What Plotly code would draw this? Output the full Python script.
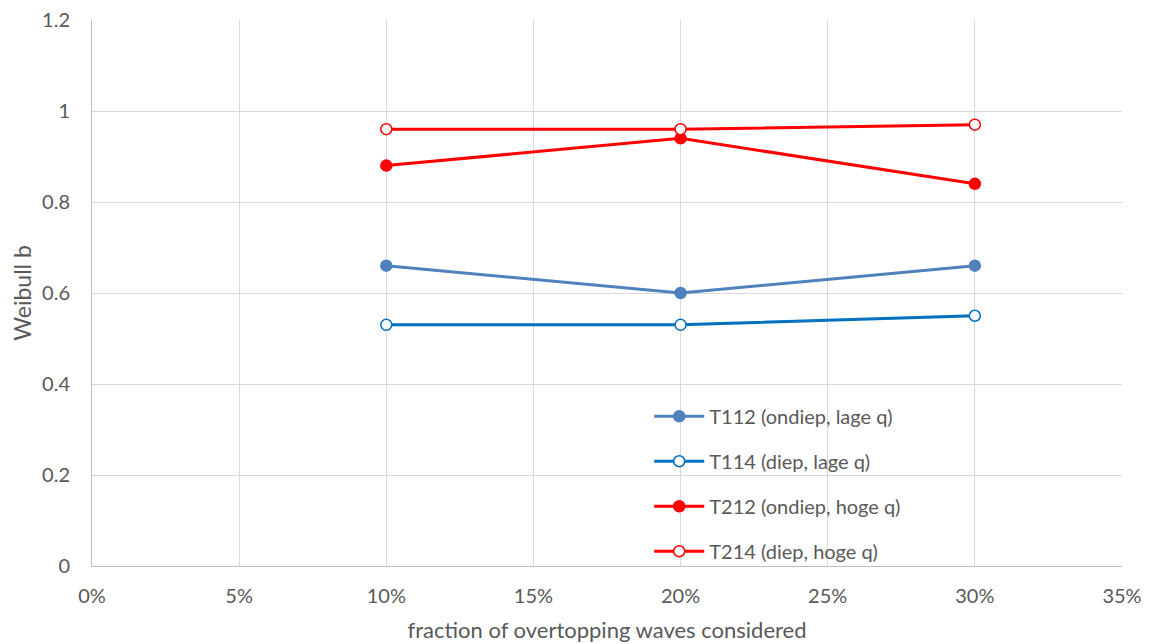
import plotly.graph_objects as go

# fraction of overtopping waves considered
fractions = [0.10, 0.20, 0.30]

t112 = [0.66, 0.60, 0.66]
t114 = [0.53, 0.53, 0.55]
t212 = [0.88, 0.94, 0.84]
t214 = [0.96, 0.96, 0.97]

series = [
    ("T112 (ondiep, lage q)", t112, "#4f81bd", True),
    ("T114 (diep, lage q)", t114, "#0070c0", False),
    ("T212 (ondiep, hoge q)", t212, "#ff0000", True),
    ("T214 (diep, hoge q)", t214, "#ff0000", False),
]

fig = go.Figure()
for i, (name, vals, color, filled) in enumerate(series):
    fig.add_trace(go.Scatter(
        x=fractions,
        y=vals,
        mode="lines+markers",
        name=name,
        legendgroup=str(i),
        line=dict(color=color, width=3),
        marker=dict(
            symbol="circle",
            size=11,
            color=color if filled else "white",
            line=dict(color=color, width=1.5),
        ),
    ))

grid = "#d9d9d9"
fig.update_layout(
    width=1155,
    height=644,
    margin=dict(l=84, r=41, t=12, b=86),
    plot_bgcolor="white",
    paper_bgcolor="white",
    font=dict(family="Lato, sans-serif", size=20, color="#595959"),
    showlegend=True,
    legend=dict(
        x=0.541, y=0.31, xanchor="left", yanchor="top",
        bgcolor="rgba(0,0,0,0)",
        font=dict(size=20, color="#595959"),
        tracegroupgap=16,
        itemwidth=50,
    ),
    xaxis=dict(
        range=[0, 0.35],
        dtick=0.05,
        tickformat=".0%",
        showgrid=True,
        gridcolor=grid,
        zeroline=False,
        showline=True,
        linecolor="#bfbfbf",
        ticks="",
        ticklabelstandoff=12,
        ticklabeloverflow="allow",
        automargin=False,
        title=dict(text="fraction of overtopping waves considered", font=dict(size=22), standoff=16),
    ),
    yaxis=dict(
        range=[0, 1.2],
        dtick=0.2,
        showgrid=True,
        gridcolor=grid,
        zeroline=False,
        showline=True,
        linecolor="#bfbfbf",
        ticks="",
        ticklabelstandoff=17,
        ticklabeloverflow="allow",
        automargin=False,
        title=dict(text="Weibull b", font=dict(size=23), standoff=14),
    ),
)

fig.write_html("out.html")
